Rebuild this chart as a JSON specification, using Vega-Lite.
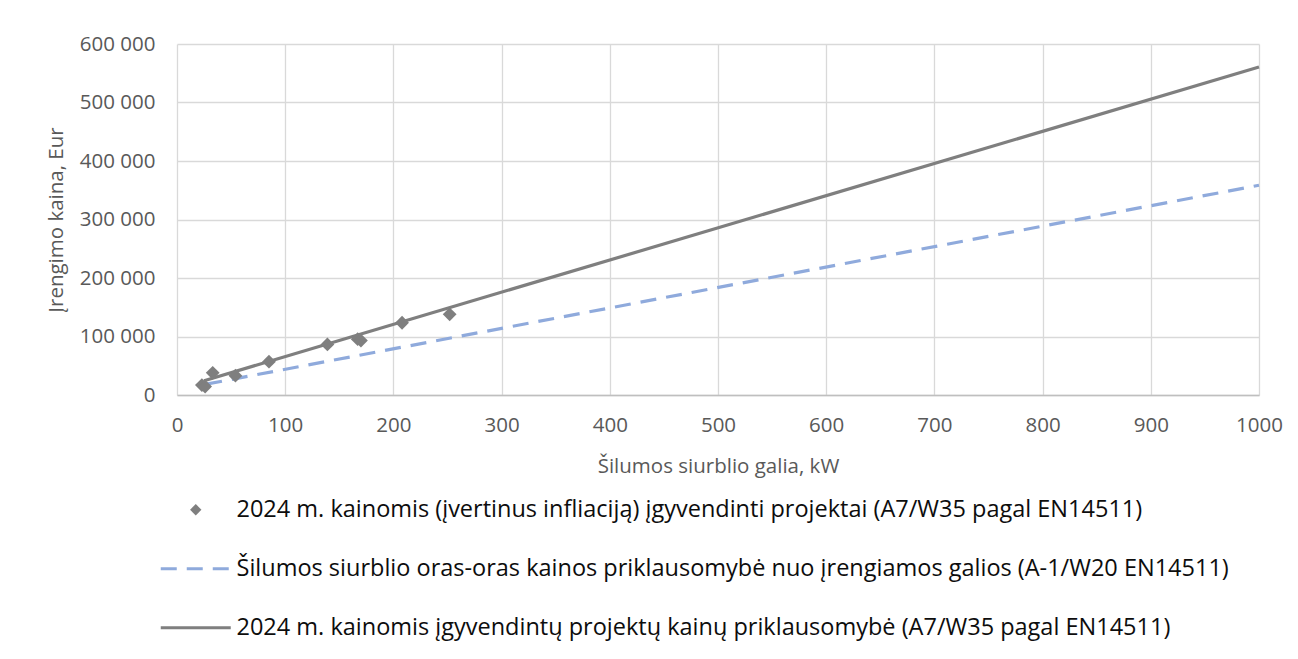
{
  "$schema": "https://vega.github.io/schema/vega-lite/v6.json",
  "autosize": "none",
  "width": 1082,
  "height": 351,
  "padding": {"left": 177, "top": 44, "right": 39, "bottom": 264},
  "background": "white",
  "config": {
    "view": {"stroke": null},
    "font": "Open Sans",
    "locale": {"number": {"decimal": ",", "thousands": " ", "grouping": [3], "currency": ["", " €"]}},
    "axis": {
      "labelFont": "Open Sans", "labelFontSize": 20.5, "labelColor": "#595959",
      "titleFont": "Open Sans", "titleFontSize": 20.5, "titleColor": "#595959", "titleFontWeight": "normal",
      "gridColor": "#d9d9d9", "gridWidth": 1.3, "ticks": false
    }
  },
  "datasets": {
    "points": [
      {"galia": 23, "kaina": 17000, "serija": "A"},
      {"galia": 26, "kaina": 14500, "serija": "A"},
      {"galia": 33, "kaina": 38000, "serija": "A"},
      {"galia": 54, "kaina": 33000, "serija": "A"},
      {"galia": 85, "kaina": 57000, "serija": "A"},
      {"galia": 139, "kaina": 86500, "serija": "A"},
      {"galia": 167, "kaina": 95500, "serija": "A"},
      {"galia": 170, "kaina": 93000, "serija": "A"},
      {"galia": 208, "kaina": 123500, "serija": "A"},
      {"galia": 252, "kaina": 138000, "serija": "A"}
    ],
    "dashed": [
      {"galia": 27, "kaina": 18500, "serija": "B"},
      {"galia": 1000, "kaina": 358500, "serija": "B"}
    ],
    "solid": [
      {"galia": 25, "kaina": 24500, "serija": "C"},
      {"galia": 1000, "kaina": 560700, "serija": "C"}
    ]
  },
  "layer": [
    {
      "data": {"name": "dashed"},
      "mark": {"type": "line", "strokeWidth": 3.2, "strokeDash": [16, 10]},
      "encoding": {
        "x": {"field": "galia", "type": "quantitative",
          "scale": {"domain": [0, 1000], "nice": false},
          "axis": {"title": "Šilumos siurblio galia, kW", "values": [0,100,200,300,400,500,600,700,800,900,1000],
            "format": "d", "labelOverlap": false,
            "labelPadding": 20, "titlePadding": 21, "domainColor": "#bfbfbf", "domainWidth": 1.5, "labelFlush": false}},
        "y": {"field": "kaina", "type": "quantitative",
          "scale": {"domain": [0, 600000], "nice": false},
          "axis": {"title": "Įrengimo kaina, Eur", "values": [0,100000,200000,300000,400000,500000,600000],
            "format": ",d", "labelOverlap": false, "labelPadding": 22, "titlePadding": 13, "domain": false}},
        "color": {"field": "serija", "type": "nominal",
          "scale": {"domain": ["A", "B", "C"], "range": ["#7f7f7f", "#8faadc", "#7f7f7f"]},
          "legend": {
            "orient": "none", "legendX": -21, "legendY": 454, "direction": "vertical",
            "title": null, "padding": 0, "rowPadding": 34,
            "labelExpr": "datum.value == 'A' ? '2024 m. kainomis (įvertinus infliaciją) įgyvendinti projektai (A7/W35 pagal EN14511)' : datum.value == 'B' ? 'Šilumos siurblio oras-oras kainos priklausomybė nuo įrengiamos galios (A-1/W20 EN14511)' : '2024 m. kainomis įgyvendintų projektų kainų priklausomybė (A7/W35 pagal EN14511)'",
            "labelFont": "Open Sans", "labelFontSize": 23.5, "labelColor": "#0d0d0d", "labelLimit": 2000, "labelOffset": 29,
            "symbolSize": 4900, "symbolStrokeWidth": 3, "symbolOffset": 28,
            "encode": {
              "symbols": {"update": {
                "shape": {"signal": "datum.value == 'A' ? 'diamond' : 'stroke'"},
                "size": {"signal": "datum.value == 'A' ? 130 : 4900"},
                "fill": {"signal": "datum.value == 'A' ? '#7f7f7f' : 'transparent'"},
                "stroke": {"signal": "datum.value == 'B' ? '#8faadc' : '#7f7f7f'"},
                "strokeWidth": {"signal": "datum.value == 'A' ? 0 : 3.2"},
                "strokeDash": {"signal": "datum.value == 'B' ? [16, 10] : [1, 0]"},
                "opacity": {"value": 1}
              }}
            }
          }}
      }
    },
    {
      "data": {"name": "solid"},
      "mark": {"type": "line", "strokeWidth": 3.2},
      "encoding": {
        "x": {"field": "galia", "type": "quantitative"},
        "y": {"field": "kaina", "type": "quantitative"},
        "color": {"field": "serija", "type": "nominal"}
      }
    },
    {
      "data": {"name": "points"},
      "mark": {"type": "point", "shape": "diamond", "filled": true, "size": 190, "opacity": 1},
      "encoding": {
        "x": {"field": "galia", "type": "quantitative"},
        "y": {"field": "kaina", "type": "quantitative"},
        "color": {"field": "serija", "type": "nominal"}
      }
    }
  ]
}
